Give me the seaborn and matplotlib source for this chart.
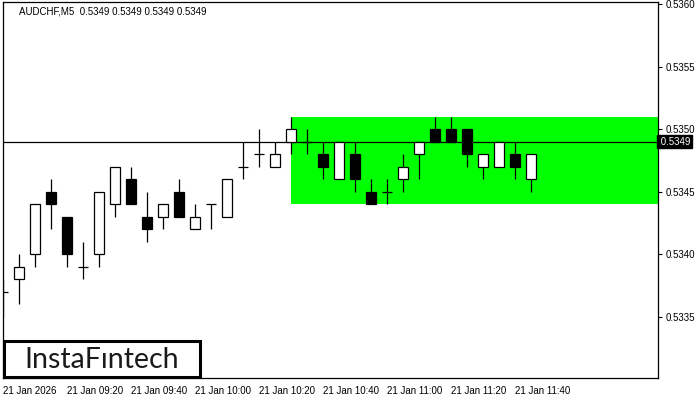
import matplotlib
matplotlib.use("Agg")
import matplotlib.pyplot as plt
from matplotlib.patches import Rectangle
from matplotlib.transforms import blended_transform_factory
import numpy as np
import pandas as pd
import seaborn as sns

# ---- data ----
opens  = [0.5337, 0.5338, 0.5340, 0.5345, 0.5343, 0.5339, 0.5340, 0.5344, 0.5346, 0.5343,
          0.5343, 0.5345, 0.5342, 0.5344, 0.5343, 0.5347, 0.5348, 0.5347, 0.5349, 0.5349,
          0.5348, 0.5346, 0.5348, 0.5345, 0.5345, 0.5346, 0.5348, 0.5350, 0.5350, 0.5350,
          0.5347, 0.5347, 0.5348, 0.5346]
highs  = [0.5338, 0.5340, 0.5344, 0.5346, 0.5343, 0.5341, 0.5345, 0.5347, 0.5347, 0.5345,
          0.5344, 0.5346, 0.5344, 0.5344, 0.5346, 0.5349, 0.5350, 0.5349, 0.5351, 0.5350,
          0.5349, 0.5349, 0.5349, 0.5346, 0.5346, 0.5348, 0.5349, 0.5351, 0.5351, 0.5350,
          0.5348, 0.5349, 0.5349, 0.5348]
lows   = [0.5335, 0.5336, 0.5339, 0.5342, 0.5339, 0.5338, 0.5339, 0.5343, 0.5344, 0.5341,
          0.5342, 0.5343, 0.5342, 0.5342, 0.5343, 0.5346, 0.5347, 0.5347, 0.5348, 0.5348,
          0.5346, 0.5346, 0.5345, 0.5344, 0.5344, 0.5345, 0.5346, 0.5349, 0.5349, 0.5347,
          0.5346, 0.5347, 0.5346, 0.5345]
closes = [0.5337, 0.5339, 0.5344, 0.5344, 0.5340, 0.5339, 0.5345, 0.5347, 0.5344, 0.5342,
          0.5344, 0.5343, 0.5343, 0.5344, 0.5346, 0.5347, 0.5348, 0.5348, 0.5350, 0.5349,
          0.5347, 0.5349, 0.5346, 0.5344, 0.5345, 0.5347, 0.5349, 0.5349, 0.5349, 0.5348,
          0.5348, 0.5349, 0.5347, 0.5348]
x_tick_labels = ["21 Jan 2026", "21 Jan 09:20", "21 Jan 09:40", "21 Jan 10:00", "21 Jan 10:20",
                 "21 Jan 10:40", "21 Jan 11:00", "21 Jan 11:20", "21 Jan 11:40"]
y_ticks = [0.5335, 0.5340, 0.5345, 0.5350, 0.5355, 0.5360]
current_price = 0.5349
zone_start = 18
zone_top = 0.5351
zone_bottom = 0.5344
title = "AUDCHF,M5  0.5349 0.5349 0.5349 0.5349"
logo = "InstaFıntech"

df = pd.DataFrame({"open": opens, "high": highs, "low": lows, "close": closes})
df["idx"] = np.arange(len(df))
df["bull"] = df["close"] >= df["open"]

# ---- style ----
sns.set_theme(style="white")
plt.rcParams["font.family"] = ["Liberation Sans", "DejaVu Sans"]

W, H = 700, 400
fig = plt.figure(figsize=(7, 4), dpi=100)
ax_l, ax_r, ax_t, ax_b = 3, 658, 2, 378
ax = fig.add_axes([ax_l / W, (H - ax_b) / H, (ax_r - ax_l) / W, (ax_b - ax_t) / H])

px_per_unit = 125.2 / 0.001  # pixels per price unit
y_top = 0.5360 + (4 - ax_t) / px_per_unit
y_bot = 0.5360 - (ax_b - 4) / px_per_unit
ax.set_ylim(y_bot, y_top)
x_right = (ax_r - ax_l) / 16.0
ax.set_xlim(0, x_right)

# green zone
ax.add_patch(Rectangle((zone_start, zone_bottom), x_right - zone_start + 1, zone_top - zone_bottom,
                       facecolor="#00FF00", edgecolor="none", zorder=1))

# current price line
ax.axhline(current_price, color="black", lw=0.9, zorder=2)

# wicks
ax.vlines(df["idx"], df["low"], df["high"], color="black", lw=0.9, zorder=3)

# bodies
bw = 0.62
body_bottom = np.minimum(df["open"], df["close"])
body_h = np.abs(df["close"] - df["open"])
nz = body_h > 1e-9
colors = np.where(df["bull"], "white", "black")
ax.bar(df["idx"][nz], body_h[nz], bottom=body_bottom[nz], width=bw,
       color=colors[nz], edgecolor="black", linewidth=0.9, zorder=4)
# doji
dj = ~nz
ax.hlines(df["open"][dj], df["idx"][dj] - bw / 2, df["idx"][dj] + bw / 2,
          color="black", lw=0.9, zorder=4)

# axes / ticks
for s in ax.spines.values():
    s.set_color("black")
    s.set_linewidth(0.9)
    s.set_visible(True)
ax.yaxis.tick_right()
ax.set_yticks(y_ticks)
ax.set_yticklabels([f"{v:.4f}" for v in y_ticks])
ax.set_xticks(np.arange(0, len(x_tick_labels) * 4, 4))
ax.set_xticklabels(x_tick_labels, ha="left")
ax.tick_params(axis="both", direction="out", length=3, width=0.8, color="black",
               labelsize=7, labelcolor="black", pad=1.5)
ax.tick_params(axis="x", pad=2.5)
ax.tick_params(axis="y", pad=2.5)
for lbl in ax.get_xticklabels():
    lbl.set_horizontalalignment("left")
ax.set_xlabel("")
ax.set_ylabel("")
ax.grid(False)

# current price tag
tr = blended_transform_factory(ax.transAxes, ax.transData)
ax.text(1.0, current_price, " " + f"{current_price:.4f}", transform=tr, ha="left", va="center",
        fontsize=7, color="white", zorder=10, clip_on=False,
        bbox=dict(boxstyle="square,pad=0.15", facecolor="black", edgecolor="black"))

# title
fig.text(19 / W, 1 - 11 / H, title, ha="left", va="center", fontsize=7, color="black")

# logo box
fig.add_artist(Rectangle((4 / W, (H - 377) / H), 196 / W, 36 / H, transform=fig.transFigure,
                         facecolor="white", edgecolor="black", linewidth=2.2, zorder=20))
fig.text(102 / W, 1 - 360 / H, logo, ha="center", va="center", fontsize=20.5,
         family=["Lato", "DejaVu Sans"], fontweight="normal", color="#1a1a1a", zorder=21)

fig.savefig("out.png", dpi=100, facecolor="white")
